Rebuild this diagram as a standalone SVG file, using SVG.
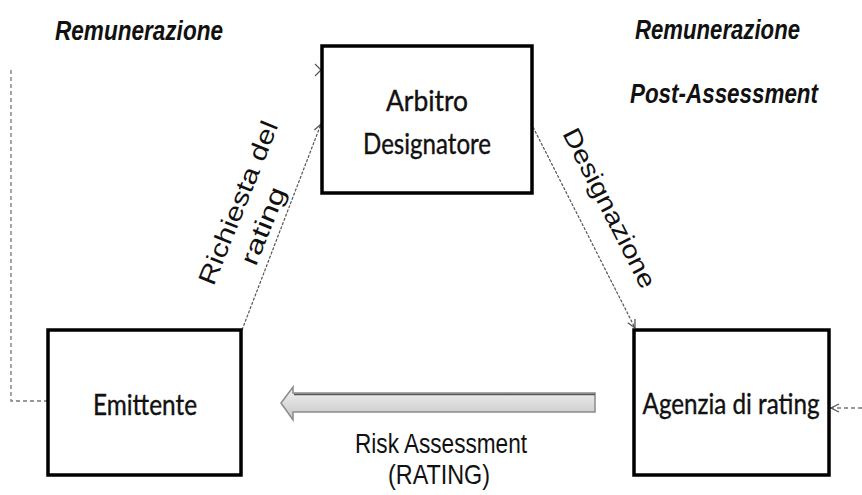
<svg xmlns="http://www.w3.org/2000/svg" width="862" height="495" viewBox="0 0 862 495">
<defs>
<style>
.box{fill:#fff;stroke:#000;stroke-width:3.5}
.lbl{font-family:Lato,"Open Sans","Liberation Sans",sans-serif;font-size:26px;fill:#111;stroke:#111;stroke-width:0.35;text-anchor:middle}
.it{font-family:"Liberation Sans",Arial,sans-serif;font-style:italic;font-weight:bold;fill:#111}
.reg{font-family:"Liberation Sans",Arial,sans-serif;fill:#111}
.thin{fill:none;stroke:#555;stroke-width:1.2}
.dash{fill:none;stroke:#777;stroke-width:1.3;stroke-dasharray:4 3}
</style>
<marker id="ah" viewBox="0 0 10 10" refX="9" refY="5" markerWidth="10" markerHeight="10" markerUnits="userSpaceOnUse" orient="auto">
<path d="M1,1 L9,5 L1,9" fill="none" stroke="#555" stroke-width="1.3"/>
</marker>
<linearGradient id="ag" x1="0" y1="0" x2="0" y2="1">
<stop offset="0" stop-color="#f2f2f2"/>
<stop offset="0.5" stop-color="#dcdcdc"/>
<stop offset="1" stop-color="#c4c4c4"/>
</linearGradient>
</defs>
<g id="connectors">
<path class="thin" stroke-dasharray="3 1.5" d="M242,330 L321,124" marker-end="url(#ah)"/>
<path class="thin" stroke-dasharray="3 1.5" d="M533,127 L635,328" marker-end="url(#ah)"/>
<path class="dash" d="M48,401 L11,401 L11,68"/>
<path class="thin" d="M315,64 L321,70 L315,76"/>
<path class="dash" stroke-dasharray="3 3" d="M862,408 L831,408" marker-end="url(#ah)"/>
<path d="M595,393 L293,393 L293,387 L281,403 L293,420 L293,412 L595,412 Z" fill="url(#ag)" stroke="#8a8a8a" stroke-width="1.5"/>
<path d="M595,394.5 L294,394.5" stroke="#555" stroke-width="1.5"/>
</g>
<g id="arbitro">
<rect class="box" x="322" y="46" width="210" height="147"/>
<text class="lbl" transform="translate(427,111) scale(1,1.12)" textLength="82" lengthAdjust="spacingAndGlyphs">Arbitro</text>
<text class="lbl" transform="translate(427,154) scale(1,1.12)" textLength="128" lengthAdjust="spacingAndGlyphs">Designatore</text>
</g>
<g id="emittente">
<rect class="box" x="48" y="330" width="193" height="145"/>
<text class="lbl" transform="translate(145,415) scale(1,1.12)" textLength="104" lengthAdjust="spacingAndGlyphs">Emittente</text>
</g>
<g id="agenzia">
<rect class="box" x="634" y="330" width="195" height="145"/>
<text class="lbl" transform="translate(731,414) scale(1,1.12)" textLength="177" lengthAdjust="spacingAndGlyphs">Agenzia di rating</text>
</g>
<g id="labels">
<text class="it" font-size="23" transform="translate(55,40) scale(1,1.22)" textLength="168" lengthAdjust="spacingAndGlyphs">Remunerazione</text>
<text class="it" font-size="23" transform="translate(635,39) scale(1,1.22)" textLength="165" lengthAdjust="spacingAndGlyphs">Remunerazione</text>
<text class="it" font-size="23" transform="translate(630,103) scale(1,1.22)" textLength="188" lengthAdjust="spacingAndGlyphs">Post-Assessment</text>
<text class="reg" font-size="22" text-anchor="middle" transform="translate(441,453) scale(1,1.22)" textLength="172" lengthAdjust="spacingAndGlyphs">Risk Assessment</text>
<text class="reg" font-size="22" text-anchor="middle" transform="translate(439,484) scale(1,1.22)" textLength="102" lengthAdjust="spacingAndGlyphs">(RATING)</text>
<text class="reg" font-size="25" text-anchor="middle" transform="translate(246,206) rotate(-68)" textLength="174" lengthAdjust="spacingAndGlyphs">Richiesta del</text>
<text class="reg" font-size="25" text-anchor="middle" transform="translate(271,229) rotate(-68)" textLength="82" lengthAdjust="spacingAndGlyphs">rating</text>
<text class="reg" font-size="25" text-anchor="middle" transform="translate(602,212) rotate(63)" textLength="176" lengthAdjust="spacingAndGlyphs">Designazione</text>
</g>
</svg>
